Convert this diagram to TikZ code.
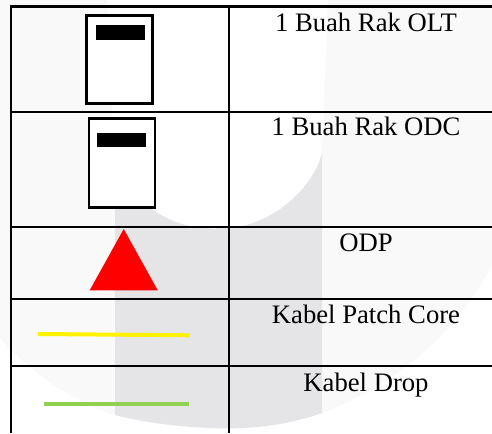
\documentclass[tikz,border=0pt]{standalone}
\usepackage{fontspec}
\setmainfont{Liberation Serif}
\definecolor{wmlight}{HTML}{F9F9FA}
\definecolor{wmdark}{HTML}{E5E5E8}
\definecolor{cablegreen}{HTML}{92D050}
\tikzset{
  rule/.style={draw=black,line width=1.65pt,line cap=butt},
  rack/.style={draw=black,fill=white,line width=2.1pt,line join=miter},
  rackbar/.style={fill=black},
  cable/.style={line width=3pt,line cap=butt},
  label/.style={anchor=base,inner sep=0pt,font=\fontsize{20}{24}\selectfont,text=black}
}
\begin{document}
\begin{tikzpicture}[x=0.75pt,y=-0.75pt]
\path[use as bounding box,fill=white] (0,0) rectangle (492,434);
% watermark
\fill[wmlight] (0,0) -- (492,0) -- (492,265)
  .. controls (455,335) and (395,385) .. (322,413)
  .. controls (290,424) and (260,428) .. (229,428.5)
  .. controls (190,428) and (150,424) .. (115,415)
  .. controls (70,400) and (30,372) .. (0,338) -- cycle;
\fill[wmdark] (115,170) .. controls (150,222) and (190,230) .. (223,228)
  .. controls (269,228) and (312,190) .. (322,153)
  -- (322,413) .. controls (290,424) and (260,428) .. (229,428.5)
  .. controls (190,428) and (150,424) .. (115,415) -- cycle;
\fill[white] (107,0) -- (328,0) -- (322,153)
  .. controls (312,190) and (269,228) .. (223,228)
  .. controls (190,230) and (150,222) .. (115,170) -- cycle;
% symbols
\node[rack,anchor=north west,minimum width=49.5pt,minimum height=66pt,inner sep=0pt,outer sep=0pt] (rackolt) at (86.5,15.2) {};
\node[rackbar,anchor=north west,minimum width=36.75pt,minimum height=11pt,inner sep=0pt] (barolt) at (95.7,25) {};
\node[rack,anchor=north west,minimum width=49.5pt,minimum height=66.4pt,inner sep=0pt,outer sep=0pt] (rackodc) at (89,118.6) {};
\node[rackbar,anchor=north west,minimum width=36.5pt,minimum height=10.8pt,inner sep=0pt] (barodc) at (97,132.3) {};
\fill[red] (123.7,229) -- (157.7,290.3) -- (89.7,290.3) -- cycle;
\coordinate (ya) at (38,334);
\coordinate (yb) at (189.7,335.3);
\draw[cable,yellow] (ya) -- (yb);
\coordinate (ga) at (44,403.7);
\coordinate (gb) at (189,403.7);
\draw[cable,cablegreen] (ga) -- (gb);
% table rules
\coordinate (bl) at (11,433);
\coordinate (bm) at (229,433);
\draw[rule] (11,5.6) -- (bl);
\draw[rule] (229,5.6) -- (bm);
\foreach \yy in {6.5,112,227,298.7,366}{
  \draw[rule] (10,\yy) -- (492,\yy);
}
% labels
\node[label] (olt) at (366,32) {1 Buah Rak OLT};
\node[label] (odc) at (366,136) {1 Buah Rak ODC};
\node[label] (odp) at (366,252) {ODP};
\node[label] (patch) at (366,323.7) {Kabel Patch Core};
\node[label] (drop) at (366,391) {Kabel Drop};
\end{tikzpicture}
\end{document}
